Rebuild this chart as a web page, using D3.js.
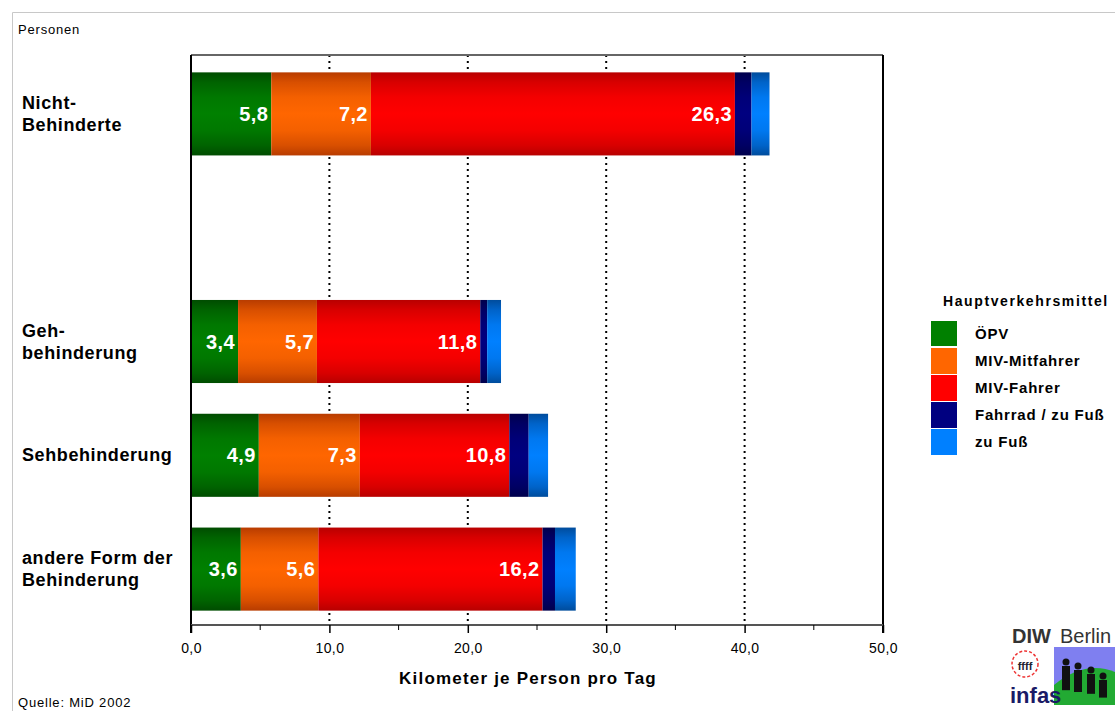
<!DOCTYPE html>
<html><head><meta charset="utf-8">
<script src="https://cdn.jsdelivr.net/npm/d3@7/dist/d3.min.js"></script>
<style>
body{margin:0;background:#fff;}
svg{display:block;font-family:"Liberation Sans",Arial,sans-serif;}
</style></head>
<body><svg id="c" width="1115" height="711"></svg>
<script>
// ---- data ----
const categories = ["Nicht-Behinderte", "", "Gehbehinderung", "Sehbehinderung", "andere Form der Behinderung"];
const categoryLines = [["Nicht-", "Behinderte"], [], ["Geh-", "behinderung"], ["Sehbehinderung"], ["andere Form der", "Behinderung"]];
const seriesNames = ["ÖPV", "MIV-Mitfahrer", "MIV-Fahrer", "Fahrrad / zu Fuß", "zu Fuß"];
const oepv      = [5.8, 0, 3.4, 4.9, 3.6];
const mivMit    = [7.2, 0, 5.7, 7.3, 5.6];
const mivFahrer = [26.3, 0, 11.8, 10.8, 16.2];
const fahrrad   = [1.2, 0, 0.5, 1.4, 0.9];
const zuFuss    = [1.3, 0, 1.0, 1.4, 1.5];
const labeledSeries = [true, true, true, false, false];
const xTicks = [0, 10, 20, 30, 40, 50];
const xMinorTicks = [5, 15, 25, 35, 45];
const colorsMid  = ["#008000", "#ff6600", "#ff0000", "#000080", "#0080ff"];
const colorsEdge = ["#004c00", "#b83c00", "#b80000", "#00004c", "#004c9c"];

const svg = d3.select("#c");
const L = 191, R = 883, T = 55, B = 625;
const x = d3.scaleLinear().domain([0, 50]).range([L, R]);
const y = d3.scaleBand().domain(categories.map((c,i)=>i)).range([57, 626]).paddingInner(0.27).paddingOuter(0.135);

// outer frame
svg.append("path").attr("d", `M12.5,711 V12.5 H1115`).attr("fill","none").attr("stroke","#c8c8c8").attr("stroke-width",1);

// gradients
const defs = svg.append("defs");
colorsMid.forEach((c,i)=>{
  const g = defs.append("linearGradient").attr("id","g"+i).attr("x1",0).attr("x2",0).attr("y1",0).attr("y2",1);
  const e = colorsEdge[i];
  const m = d3.interpolateRgb(e, c);
  [[0,m(0)],[0.12,m(0.45)],[0.3,m(0.85)],[0.5,m(1)],[0.7,m(0.85)],[0.88,m(0.45)],[1,m(0)]].forEach(([o,col])=>
    g.append("stop").attr("offset",o).attr("stop-color",col));
});

// gridlines
svg.append("g").selectAll("line").data(xTicks.filter(t=>t>0 && t<50)).join("line")
  .attr("x1",d=>x(d)).attr("x2",d=>x(d)).attr("y1",T).attr("y2",B)
  .attr("stroke","#000").attr("stroke-width",2).attr("stroke-dasharray","2,4");

// stacked bars
const rows = categories.map((c,i)=>({i, s0:oepv[i], s1:mivMit[i], s2:mivFahrer[i], s3:fahrrad[i], s4:zuFuss[i]}));
const keys = ["s0","s1","s2","s3","s4"];
const stack = d3.stack().keys(keys)(rows);
stack.forEach((layer, si)=>{
  const g = svg.append("g");
  g.selectAll("rect").data(layer.filter(d=>d[1]-d[0]>0)).join("rect")
    .attr("x",d=>x(d[0])).attr("width",d=>x(d[1])-x(d[0]))
    .attr("y",d=>y(d.data.i)).attr("height",y.bandwidth())
    .attr("fill",`url(#g${si})`);
  if (labeledSeries[si]) {
    g.selectAll("text").data(layer.filter(d=>d[1]-d[0]>0)).join("text")
      .attr("x",d=>x(d[1])-3).attr("y",d=>y(d.data.i)+y.bandwidth()/2+7)
      .attr("text-anchor","end").attr("fill","#fff").attr("font-weight","bold")
      .attr("font-size",20).attr("letter-spacing",0.4)
      .text(d=>d3.format(".1f")(d[1]-d[0]).replace(".",","));
  }
});

// frame lines
svg.append("line").attr("x1",L).attr("x2",R).attr("y1",T).attr("y2",T).attr("stroke","#666").attr("stroke-width",2);
svg.append("line").attr("x1",R).attr("x2",R).attr("y1",T).attr("y2",B+8).attr("stroke","#000").attr("stroke-width",2);
svg.append("line").attr("x1",L).attr("x2",L).attr("y1",T).attr("y2",B+8).attr("stroke","#000").attr("stroke-width",2);

// x axis
const ax = svg.append("g").attr("transform",`translate(0,${B})`)
  .call(d3.axisBottom(x).tickValues(xTicks).tickSize(8).tickFormat(d=>d3.format(".1f")(d).replace(".",",")));
ax.select(".domain").attr("stroke","#555").attr("stroke-width",2).attr("d",`M${L},0H${R}`);
ax.selectAll(".tick line").attr("stroke","#000").attr("stroke-width",1.5);
ax.selectAll(".tick text").attr("font-family","Liberation Sans, Arial, sans-serif").attr("font-size",14).attr("letter-spacing",0.4).attr("fill","#000").attr("dy","1.2em");
svg.append("g").selectAll("line").data(xMinorTicks).join("line")
  .attr("x1",d=>x(d)).attr("x2",d=>x(d)).attr("y1",B).attr("y2",B+5).attr("stroke","#000").attr("stroke-width",1);

svg.append("text").attr("x",(L+R)/2 - 9).attr("y",684).attr("text-anchor","middle")
  .attr("font-weight","bold").attr("font-size",17).attr("letter-spacing",1.2).text("Kilometer je Person pro Tag");

// category labels
categoryLines.forEach((lines,i)=>{
  const cy = y(i)+y.bandwidth()/2;
  const n = lines.length;
  lines.forEach((ln,k)=>{
    svg.append("text").attr("x",22).attr("y",cy + 6 + (k-(n-1)/2)*22)
      .attr("font-weight","bold").attr("font-size",18).attr("letter-spacing",0.6).text(ln);
  });
});

svg.append("text").attr("x",18).attr("y",34).attr("font-size",13).attr("letter-spacing",0.8).text("Personen");
svg.append("text").attr("x",18).attr("y",707).attr("font-size",13).attr("letter-spacing",0.8).text("Quelle: MiD 2002");

// legend
const lg = svg.append("g");
lg.append("text").attr("x",943).attr("y",306).attr("font-weight","bold").attr("font-size",14).attr("letter-spacing",1.6).text("Hauptverkehrsmittel");
seriesNames.forEach((s,i)=>{
  const yy = 321 + i*27;
  lg.append("rect").attr("x",931).attr("y",yy).attr("width",26).attr("height",i===0?25:26).attr("fill",colorsMid[i]);
  lg.append("text").attr("x",975).attr("y",yy+18).attr("font-weight","bold").attr("font-size",15).attr("letter-spacing",0.8).text(s);
});

// logo (approximate)
const logo = svg.append("g");
logo.append("text").attr("x",1012).attr("y",643).attr("font-size",20).attr("font-weight","bold").attr("fill","#333").text("DIW");
logo.append("text").attr("x",1060).attr("y",643).attr("font-size",20).attr("fill","#333").text("Berlin");
logo.append("rect").attr("x",1054).attr("y",647).attr("width",61).attr("height",58).attr("fill","#7f7ff0");
logo.append("path").attr("d","M1054,705 V685 Q1085,660 1115,672 V705 Z").attr("fill","#22aa33");
[[1066,662,11],[1078,666,10],[1091,670,9],[1103,676,8]].forEach(([px,py,h])=>{
  logo.append("circle").attr("cx",px).attr("cy",py).attr("r",3.5).attr("fill","#111");
  logo.append("rect").attr("x",px-4).attr("y",py+4).attr("width",8).attr("height",h*2.2).attr("fill","#111");
});
logo.append("circle").attr("cx",1025).attr("cy",664).attr("r",13).attr("fill","none").attr("stroke","#e33").attr("stroke-width",1.5).attr("stroke-dasharray","3,2");
logo.append("text").attr("x",1025).attr("y",670).attr("text-anchor","middle").attr("font-size",11).attr("font-weight","bold").attr("fill","#223").text("ffff");
logo.append("text").attr("x",1010).attr("y",703).attr("font-size",22).attr("font-weight","bold").attr("fill","#1a1a66").attr("font-family","Liberation Sans Narrow, Liberation Sans, sans-serif").text("infas");
</script></body></html>
